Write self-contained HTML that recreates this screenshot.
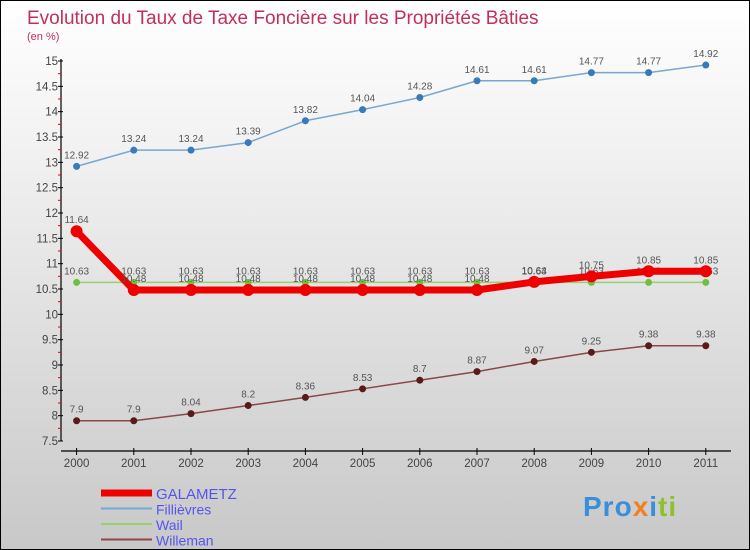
<!DOCTYPE html>
<html><head><meta charset="utf-8"><style>
body{margin:0}
#c{position:relative;width:750px;height:550px;box-sizing:border-box;border:1px solid #000;background:linear-gradient(#fff,#f0f0f0 30%,#c8c8c8);font-family:"Liberation Sans",sans-serif;overflow:hidden}
svg text{font-family:"Liberation Sans",sans-serif}
</style></head><body>
<div id="c">
<svg id="s" width="750" height="550">
<text x="26" y="23" font-size="19" fill="#c0305a">Evolution du Taux de Taxe Foncière sur les Propriétés Bâties</text>
<text x="26" y="39" font-size="11" fill="#c0305a">(en %)</text>
<g id="axes"></g><g id="series"></g><g id="legend"></g>
</svg>
<div style="position:absolute;left:582px;top:490px;font-size:28px;font-weight:bold;letter-spacing:1px"><span style="color:#3a8fd8">Pro</span><span style="color:#f08020">x</span><span style="color:#3a8fd8">i</span><span style="color:#90c030">ti</span></div>
</div>
<script>
const years=[2000,2001,2002,2003,2004,2005,2006,2007,2008,2009,2010,2011];
const yTicks=[7.5,8,8.5,9,9.5,10,10.5,11,11.5,12,12.5,13,13.5,14,14.5,15];
const galametz=[11.64,10.48,10.48,10.48,10.48,10.48,10.48,10.48,10.64,10.75,10.85,10.85];
const fillievres=[12.92,13.24,13.24,13.39,13.82,14.04,14.28,14.61,14.61,14.77,14.77,14.92];
const wail=[10.63,10.63,10.63,10.63,10.63,10.63,10.63,10.63,10.63,10.63,10.63,10.63];
const willeman=[7.9,7.9,8.04,8.2,8.36,8.53,8.7,8.87,9.07,9.25,9.38,9.38];
const seriesNames=["GALAMETZ","Fillièvres","Wail","Willeman"];
const NS="http://www.w3.org/2000/svg";
const X=i=>75.6+i*57.2;
const Y=v=>440-(v-7.5)*(380/7.5);
function mk(tag,attrs,parent,text){const e=document.createElementNS(NS,tag);for(const k in attrs)e.setAttribute(k,attrs[k]);if(text!==undefined)e.textContent=text;parent.appendChild(e);return e;}
const ax=document.getElementById('axes');
let yl=mk('line',{x1:60,y1:58,x2:60,y2:440,stroke:'#000','stroke-width':1.2},ax);


let xl=mk('line',{x1:60,y1:450,x2:730,y2:450,stroke:'#000','stroke-width':1.2},ax);


yTicks.forEach((t,i)=>{
  mk('line',{x1:57,y1:Y(t),x2:62,y2:Y(t),stroke:'#000'},ax);
  if(i<yTicks.length-1)mk('line',{x1:57,y1:Y(t+0.25),x2:60,y2:Y(t+0.25),stroke:'#e00'},ax);
  const tx=mk('text',{x:57,y:Y(t)+4,'font-size':11.5,fill:'#444','text-anchor':'end'},ax,String(t));
  
  
});
years.forEach((yr,i)=>{
  mk('line',{x1:X(i),y1:447,x2:X(i),y2:454,stroke:'#000'},ax);
  const tx=mk('text',{x:X(i),y:466,'font-size':11.5,fill:'#444','text-anchor':'middle'},ax,String(yr));
  
  
});
const sg=document.getElementById('series');
const defs=[[fillievres,'#78a8d0','#3a7ab8',1.5,3.5,'fillievres'],[willeman,'#8a4848','#5a1a1a',1.5,3.5,'willeman'],[wail,'#98d070','#70c040',1.5,3.5,'wail'],[galametz,'#ee0000','#ee0000',7,6,'galametz']];
defs.forEach(([d,lc,pc,w,r,nm])=>{
  const g=mk('g',{},sg);
  
  
  const pl=mk('polyline',{points:d.map((v,i)=>X(i)+','+Y(v)).join(' '),fill:'none',stroke:lc,'stroke-width':w,'stroke-linejoin':'round'},g);
  
  
  d.forEach((v,i)=>{
    const c=mk('circle',{cx:X(i),cy:Y(v),r:r,fill:pc},g);
    
    
    const t=mk('text',{x:X(i),y:Y(v)-8,'font-size':10,fill:'#555','text-anchor':'middle'},g,String(v));
    
    
  });
});
const lg=document.getElementById('legend');
const lcol=['#ee0000','#78a8d0','#98d070','#8a4848'];
const lw=[7,2,2,2];
seriesNames.forEach((n,i)=>{
  const y=492+i*15.5;
  const l=mk('line',{x1:100,y1:y,x2:151,y2:y,stroke:lcol[i],'stroke-width':lw[i]},lg);
  
  
  const t=mk('text',{x:155,y:y+6,'font-size':i==0?15:14,fill:'#5555ee'},lg,n);
  
  
});
</script>
</body></html>
